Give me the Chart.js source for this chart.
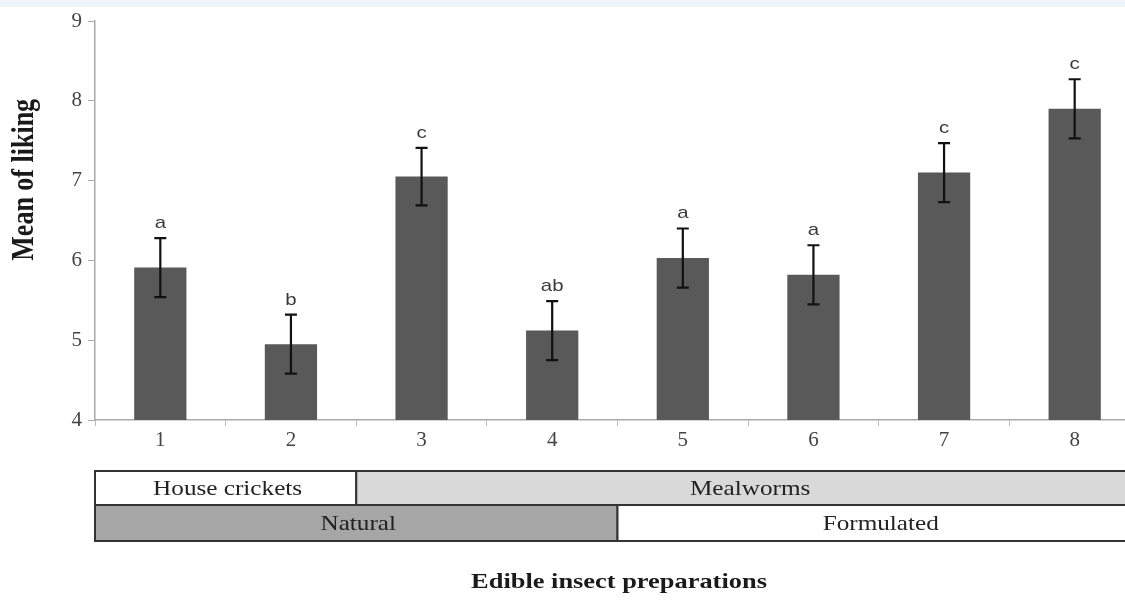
<!DOCTYPE html>
<html>
<head>
<meta charset="utf-8">
<script src="https://cdn.jsdelivr.net/npm/chart.js@4"></script>
<style>
  html, body { margin: 0; padding: 0; background: #fff; }
  #wrap {
    width: 1125px; height: 600px; overflow: hidden;
    background: linear-gradient(#eef5fb 0, #eef5fb 7px, #fff 7px);
  }
  #box { width: 1140px; height: 600px; }
</style>
</head>
<body>
<div id="wrap"><div id="box"><canvas id="chart"></canvas></div></div>
<script>
// Data
const categories = ['1', '2', '3', '4', '5', '6', '7', '8'];
const meanLiking = [5.91, 4.95, 7.05, 5.12, 6.03, 5.82, 7.1, 7.9];
const errorSize = [0.37, 0.37, 0.36, 0.37, 0.37, 0.37, 0.37, 0.37];
const letters = ['a', 'b', 'c', 'ab', 'a', 'a', 'c', 'c'];
const yTicks = [4, 5, 6, 7, 8, 9];

// Group rows under the axis: [label, first index, last index, fill]
const insectGroups = [
    ['House crickets', 0, 1, '#ffffff'],
    ['Mealworms', 2, 7, '#d9d9d9']
];
const prepGroups = [
    ['Natural', 0, 3, '#a6a6a6'],
    ['Formulated', 4, 7, '#ffffff']
];

const xTitle = 'Edible insect preparations';
const yTitle = 'Mean of liking';

const serif = '"Liberation Serif", "Times New Roman", serif';
const sans = '"Liberation Sans", Arial, sans-serif';
const stretch = 1.2; // the source picture is widened a bit

// text widened horizontally like the original scan
function wideText(ctx, text, x, y, rotate) {
    ctx.save();
    ctx.translate(x, y);
    ctx.scale(stretch, 1);
    if (rotate) ctx.rotate(-Math.PI / 2);
    ctx.fillText(text, 0, 0);
    ctx.restore();
}

// Error bars and significance letters
const errorBarsPlugin = {
    id: 'errorBars',
    afterDatasetsDraw(chart) {
        const ctx = chart.ctx;
        const x = chart.scales.x;
        const y = chart.scales.y;
        ctx.save();
        meanLiking.forEach((m, i) => {
            const px = x.getPixelForValue(i);
            const top = y.getPixelForValue(m + errorSize[i]);
            const bottom = y.getPixelForValue(m - errorSize[i]);
            ctx.strokeStyle = '#111';
            ctx.lineWidth = 2.2;
            ctx.beginPath();
            ctx.moveTo(px, top);
            ctx.lineTo(px, bottom);
            ctx.moveTo(px - 6, top);
            ctx.lineTo(px + 6, top);
            ctx.moveTo(px - 6, bottom);
            ctx.lineTo(px + 6, bottom);
            ctx.stroke();

            ctx.fillStyle = '#3a3a3a';
            ctx.font = '17px ' + sans;
            ctx.textAlign = 'center';
            ctx.textBaseline = 'alphabetic';
            wideText(ctx, letters[i], px, top - 10);
        });
        ctx.restore();
    }
};

// Grouping boxes below the category labels, plus axis titles
const groupBoxesPlugin = {
    id: 'groupBoxes',
    afterDraw(chart) {
        const ctx = chart.ctx;
        const x = chart.scales.x;
        const y = chart.scales.y;
        const half = (x.right - x.left) / categories.length / 2;
        const rows = [[insectGroups, 471, 505], [prepGroups, 505, 541]];
        ctx.save();
        rows.forEach(([groups, y0, y1]) => {
            groups.forEach(([label, a, b, fill]) => {
                const left = x.getPixelForValue(a) - half;
                const right = x.getPixelForValue(b) + half;
                ctx.fillStyle = fill;
                ctx.fillRect(left, y0, right - left, y1 - y0);
                ctx.strokeStyle = '#333';
                ctx.lineWidth = 2;
                ctx.strokeRect(left, y0, right - left, y1 - y0);
                ctx.fillStyle = '#222';
                ctx.font = '21px ' + serif;
                ctx.textAlign = 'center';
                ctx.textBaseline = 'middle';
                wideText(ctx, label, (left + right) / 2 + 2, (y0 + y1) / 2 + 1);
            });
        });

        ctx.fillStyle = '#1a1a1a';
        ctx.font = 'bold 22px ' + serif;
        ctx.textAlign = 'center';
        ctx.textBaseline = 'middle';
        wideText(ctx, xTitle, 619, 582);
        ctx.font = 'bold 26px ' + serif;
        wideText(ctx, yTitle, 25, y.getPixelForValue(7.01), true);
        ctx.restore();
    }
};

new Chart(document.getElementById('chart'), {
    type: 'bar',
    data: {
        labels: categories,
        datasets: [{
            data: meanLiking,
            backgroundColor: '#595959',
            borderWidth: 0,
            categoryPercentage: 1,
            barPercentage: 0.4
        }]
    },
    options: {
        responsive: true,
        maintainAspectRatio: false,
        animation: false,
        layout: { padding: { left: 10, top: 21, right: 0, bottom: 0 } },
        plugins: {
            legend: { display: false },
            tooltip: { enabled: false }
        },
        scales: {
            x: {
                grid: {
                    drawOnChartArea: false,
                    tickLength: 6,
                    color: '#bbbbbb'
                },
                border: { color: '#aaaaaa', width: 1.5 },
                ticks: {
                    color: '#444',
                    font: { family: serif, size: 21 },
                    padding: 2
                },
                afterFit(scale) { scale.height = 180; }
            },
            y: {
                min: 4,
                max: 9,
                afterBuildTicks(scale) {
                    scale.ticks = yTicks.map(v => ({ value: v }));
                },
                grid: {
                    drawOnChartArea: false,
                    tickLength: 7,
                    color: '#aaaaaa'
                },
                border: { color: '#aaaaaa', width: 1.5 },
                ticks: {
                    color: '#444',
                    font: { family: serif, size: 21 },
                    padding: 6
                },
                afterFit(scale) { scale.width = 85; }
            }
        }
    },
    plugins: [errorBarsPlugin, groupBoxesPlugin]
});
</script>
</body>
</html>
